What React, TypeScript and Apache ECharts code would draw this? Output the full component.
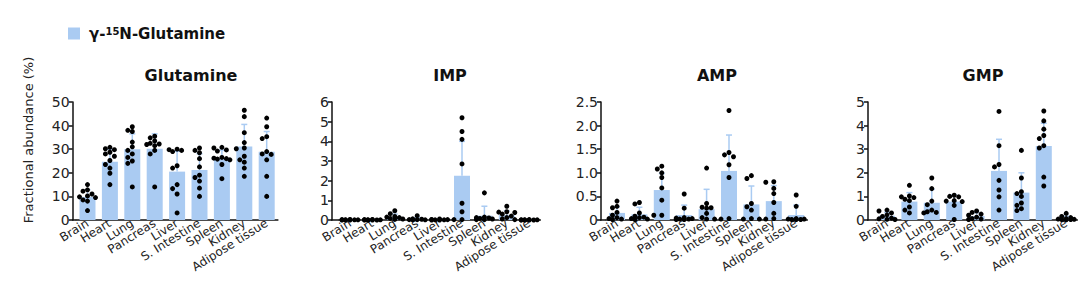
import React, { useEffect, useRef } from 'react';
import * as echarts from 'echarts';

// ---------- data ----------
const categories = ['Brain', 'Heart', 'Lung', 'Pancreas', 'Liver', 'S. Intestine', 'Spleen', 'Kidney', 'Adipose tissue'];
const legendName = 'γ-15N-Glutamine';
const panelTitles = ['Glutamine', 'IMP', 'AMP', 'GMP'];
const yMaxes = [50, 6, 2.5, 5];
const yIntervals = [10, 1, 0.5, 1];
const yDecimals = [0, 0, 1, 0];

const glnMean = [9.8, 24.7, 30.0, 30.2, 20.5, 21.2, 26.0, 31.1, 28.9];
const glnSD = [3.0, 5.3, 6.5, 6.3, 8.6, 6.9, 3.6, 9.4, 8.6];
const glnPoints = [
  [15.0, 12.8, 12.2, 11.0, 10.2, 9.8, 9.5, 8.5, 8.0, 4.0],
  [30.8, 30.2, 29.8, 28.7, 28.0, 27.0, 25.2, 23.5, 22.0, 19.8, 15.0],
  [39.5, 38.0, 37.5, 33.0, 31.0, 29.5, 28.0, 26.5, 25.0, 24.0, 14.0],
  [35.5, 34.8, 33.5, 32.5, 32.2, 32.0, 31.5, 29.5, 28.0, 14.0],
  [30.0, 29.8, 29.5, 29.0, 23.0, 22.0, 15.0, 13.3, 11.0, 3.0],
  [30.5, 29.5, 28.5, 26.0, 22.5, 19.0, 18.0, 16.5, 13.5, 10.0],
  [30.8, 30.5, 29.7, 29.2, 26.5, 26.2, 26.0, 25.8, 25.5, 23.5, 17.5],
  [46.5, 43.8, 37.0, 32.8, 30.5, 30.2, 27.0, 25.5, 24.5, 22.0, 18.5],
  [43.2, 39.5, 35.3, 34.5, 29.0, 28.0, 27.8, 25.5, 18.5, 10.0],
];

const impMean = [0.01, 0.01, 0.15, 0.05, 0.02, 2.25, 0.22, 0.25, 0.01];
const impSD = [0.01, 0.01, 0.15, 0.08, 0.02, 1.75, 0.48, 0.22, 0.01];
const impPoints = [
  [0.03, 0.02, 0.01, 0.01, 0.01, 0, 0, 0],
  [0.03, 0.02, 0.01, 0.01, 0, 0, 0, 0],
  [0.47, 0.32, 0.18, 0.15, 0.12, 0.08, 0.05, 0.03],
  [0.22, 0.06, 0.04, 0.02, 0.02, 0.01, 0.01],
  [0.05, 0.03, 0.02, 0.01, 0.01, 0, 0],
  [5.2, 4.5, 4.1, 2.85, 0.85, 0.42, 0.02, 0.02],
  [1.38, 0.15, 0.12, 0.1, 0.08, 0.05, 0.02, 0.02],
  [0.7, 0.42, 0.4, 0.38, 0.3, 0.2, 0.12, 0.05, 0.02],
  [0.02, 0.01, 0.01, 0.01, 0, 0, 0, 0],
];

const ampMean = [0.15, 0.12, 0.635, 0.105, 0.23, 1.04, 0.33, 0.4, 0.105];
const ampSD = [0.13, 0.15, 0.35, 0.21, 0.42, 0.76, 0.39, 0.33, 0.21];
const ampPoints = [
  [0.4, 0.29, 0.26, 0.16, 0.1, 0.05, 0.03, 0.02, 0.01],
  [0.37, 0.34, 0.15, 0.08, 0.06, 0.05, 0.03, 0.02, 0.01],
  [1.14, 1.08, 1.0, 0.9, 0.68, 0.42, 0.1, 0.1],
  [0.55, 0.25, 0.05, 0.04, 0.03, 0.02, 0.02, 0.01, 0.01],
  [1.1, 0.35, 0.27, 0.26, 0.25, 0.14, 0.05, 0.02, 0.02],
  [2.32, 1.43, 1.38, 1.34, 1.17, 0.9, 0.03, 0.02],
  [0.94, 0.88, 0.35, 0.28, 0.21, 0.03, 0.02, 0.02],
  [0.81, 0.8, 0.67, 0.56, 0.37, 0.14, 0.03, 0.02],
  [0.53, 0.29, 0.03, 0.02, 0.02, 0.01, 0.01, 0.01],
];

const gmpMean = [0.18, 0.78, 0.73, 0.78, 0.17, 2.08, 1.16, 3.14, 0.07];
const gmpSD = [0.14, 0.38, 0.57, 0.28, 0.15, 1.34, 0.84, 0.96, 0.09];
const gmpPoints = [
  [0.42, 0.38, 0.3, 0.22, 0.15, 0.08, 0.05, 0.03, 0.02],
  [1.47, 1.02, 0.98, 0.95, 0.88, 0.82, 0.55, 0.42, 0.3],
  [1.78, 1.33, 0.8, 0.65, 0.42, 0.35, 0.32, 0.3],
  [1.05, 1.0, 0.98, 0.82, 0.8, 0.78, 0.62, 0.02],
  [0.38, 0.32, 0.25, 0.2, 0.12, 0.06, 0.04, 0.02],
  [4.6, 3.15, 2.35, 2.25, 1.68, 1.27, 0.98, 0.42],
  [2.95, 1.78, 1.2, 1.12, 1.0, 0.72, 0.62, 0.48, 0.4],
  [4.62, 4.2, 3.85, 3.58, 3.45, 3.15, 3.05, 1.82, 1.44],
  [0.28, 0.15, 0.1, 0.06, 0.04, 0.03, 0.02, 0.02, 0.01],
];

const allMeans = [glnMean, impMean, ampMean, gmpMean];
const allSDs = [glnSD, impSD, ampSD, gmpSD];
const allPoints = [glnPoints, impPoints, ampPoints, gmpPoints];

// ---------- layout / style ----------
const FONT = '"DejaVu Sans", sans-serif';
const BLUE = '#aacbf2';
const INK = '#111';
const STEP = 22.4;
const PLOT_TOP = 102;
const PLOT_H = 118;
const layout = [
  { axisX: 72.7, first: 87.5, titleX: 191 },
  { axisX: 332, first: 350, titleX: 450 },
  { axisX: 601, first: 617, titleX: 717 },
  { axisX: 868, first: 887, titleX: 983 },
];

// beeswarm-style horizontal spread (pixels) so dots don't overlap
function swarm(values: number[], yMax: number): number[] {
  const k = PLOT_H / yMax;
  const d = 4.6;
  const placed: [number, number][] = [];
  const cands = [0, -4.5, 4.5, -8, 8];
  return values.map((v) => {
    const y = v * k;
    let best = 0;
    let bestScore = -Infinity;
    for (const c of cands) {
      let minDist = Infinity;
      for (const [px, py] of placed) minDist = Math.min(minDist, Math.hypot(px - c, py - y));
      if (minDist >= d) { best = c; break; }
      if (minDist > bestScore) { bestScore = minDist; best = c; }
    }
    placed.push([best, y]);
    return best;
  });
}

export default function App() {
  const ref = useRef<HTMLDivElement>(null);
  useEffect(() => {
    if (!ref.current) return;
    const chart = echarts.init(ref.current, undefined, { renderer: 'svg' });
    const grid: any[] = [];
    const xAxis: any[] = [];
    const yAxis: any[] = [];
    const series: any[] = [];
    const graphic: any[] = [];

    layout.forEach((L, p) => {
      const gridLeft = L.first - STEP / 2;
      grid.push({
        left: gridLeft, top: PLOT_TOP, width: STEP * categories.length, height: PLOT_H,
        containLabel: false, outerBoundsMode: 'none',
      });
      xAxis.push({
        type: 'category', gridIndex: p, data: categories,
        axisLine: { lineStyle: { color: INK, width: 1.5 } },
        axisTick: { alignWithLabel: true, length: 4, lineStyle: { color: INK, width: 1.5 } },
        axisLabel: { rotate: 32, interval: 0, fontSize: 12, color: '#222', fontFamily: FONT, margin: 2 },
      });
      const dec = yDecimals[p];
      yAxis.push({
        type: 'value', gridIndex: p, min: 0, max: yMaxes[p], interval: yIntervals[p],
        offset: gridLeft - L.axisX,
        splitLine: { show: false },
        axisLine: { show: true, lineStyle: { color: INK, width: 1.5 } },
        axisTick: { show: true, length: 4, lineStyle: { color: INK, width: 1.5 } },
        axisLabel: {
          fontSize: 14, color: '#222', fontFamily: FONT, margin: 3,
          formatter: (v: number) => (v === 0 ? '0' : v.toFixed(dec)),
        },
      });
      series.push({
        type: 'bar', name: legendName, xAxisIndex: p, yAxisIndex: p,
        data: allMeans[p], barWidth: 16, itemStyle: { color: BLUE }, z: 2,
      });
      series.push({
        type: 'custom', xAxisIndex: p, yAxisIndex: p, z: 3,
        data: allMeans[p].map((m, i) => [i, m, allSDs[p][i]]),
        encode: { x: 0, y: 1 },
        renderItem: (_params: any, api: any) => {
          const i = api.value(0);
          const m = api.value(1);
          const s = api.value(2);
          const b = api.coord([i, m]);
          const t = api.coord([i, m + s]);
          const style = { stroke: BLUE, lineWidth: 1.5 };
          return {
            type: 'group',
            children: [
              { type: 'line', shape: { x1: b[0], y1: b[1], x2: t[0], y2: t[1] }, style },
              { type: 'line', shape: { x1: t[0] - 3, y1: t[1], x2: t[0] + 3, y2: t[1] }, style },
            ],
          };
        },
      });
      const dots: any[] = [];
      allPoints[p].forEach((vals, i) => {
        const off = swarm(vals, yMaxes[p]);
        vals.forEach((v, j) => dots.push({ value: [i, v], symbolOffset: [off[j], 0] }));
      });
      series.push({
        type: 'scatter', xAxisIndex: p, yAxisIndex: p, z: 4,
        data: dots, symbolSize: 5, itemStyle: { color: '#000', opacity: 1 },
      });
      graphic.push({
        type: 'text', x: L.titleX, y: 75,
        style: { text: panelTitles[p], font: `bold 16px ${FONT}`, fill: '#111', textAlign: 'center', textVerticalAlign: 'middle' },
      });
      graphic.push({
        type: 'line', shape: { x1: L.axisX - 0.75, y1: PLOT_TOP + PLOT_H, x2: gridLeft, y2: PLOT_TOP + PLOT_H },
        style: { stroke: INK, lineWidth: 1.5 },
      });
    });

    graphic.push({
      type: 'text', x: 28, y: 140, rotation: Math.PI / 2,
      style: { text: 'Fractional abundance (%)', font: `13px ${FONT}`, fill: '#222', textAlign: 'center', textVerticalAlign: 'middle' },
    });

    chart.setOption({
      animation: false,
      backgroundColor: '#fff',
      legend: {
        data: [legendName], left: 63, top: 21, icon: 'rect', itemWidth: 12, itemHeight: 12,
        selectedMode: false,
        formatter: () => '{p|}{a|γ-}{s|15}{a|N-Glutamine}',
        textStyle: {
          rich: {
            p: { width: 4 },
            a: { fontSize: 15, fontWeight: 'bold', fontFamily: FONT, color: '#111' },
            s: { fontSize: 10, fontWeight: 'bold', fontFamily: FONT, color: '#111', verticalAlign: 'top' },
          },
        },
      },
      grid, xAxis, yAxis, series, graphic,
    });
    return () => chart.dispose();
  }, []);
  return <div ref={ref} style={{ position: 'fixed', left: 0, top: 0, width: 1080, height: 281 }} />;
}
